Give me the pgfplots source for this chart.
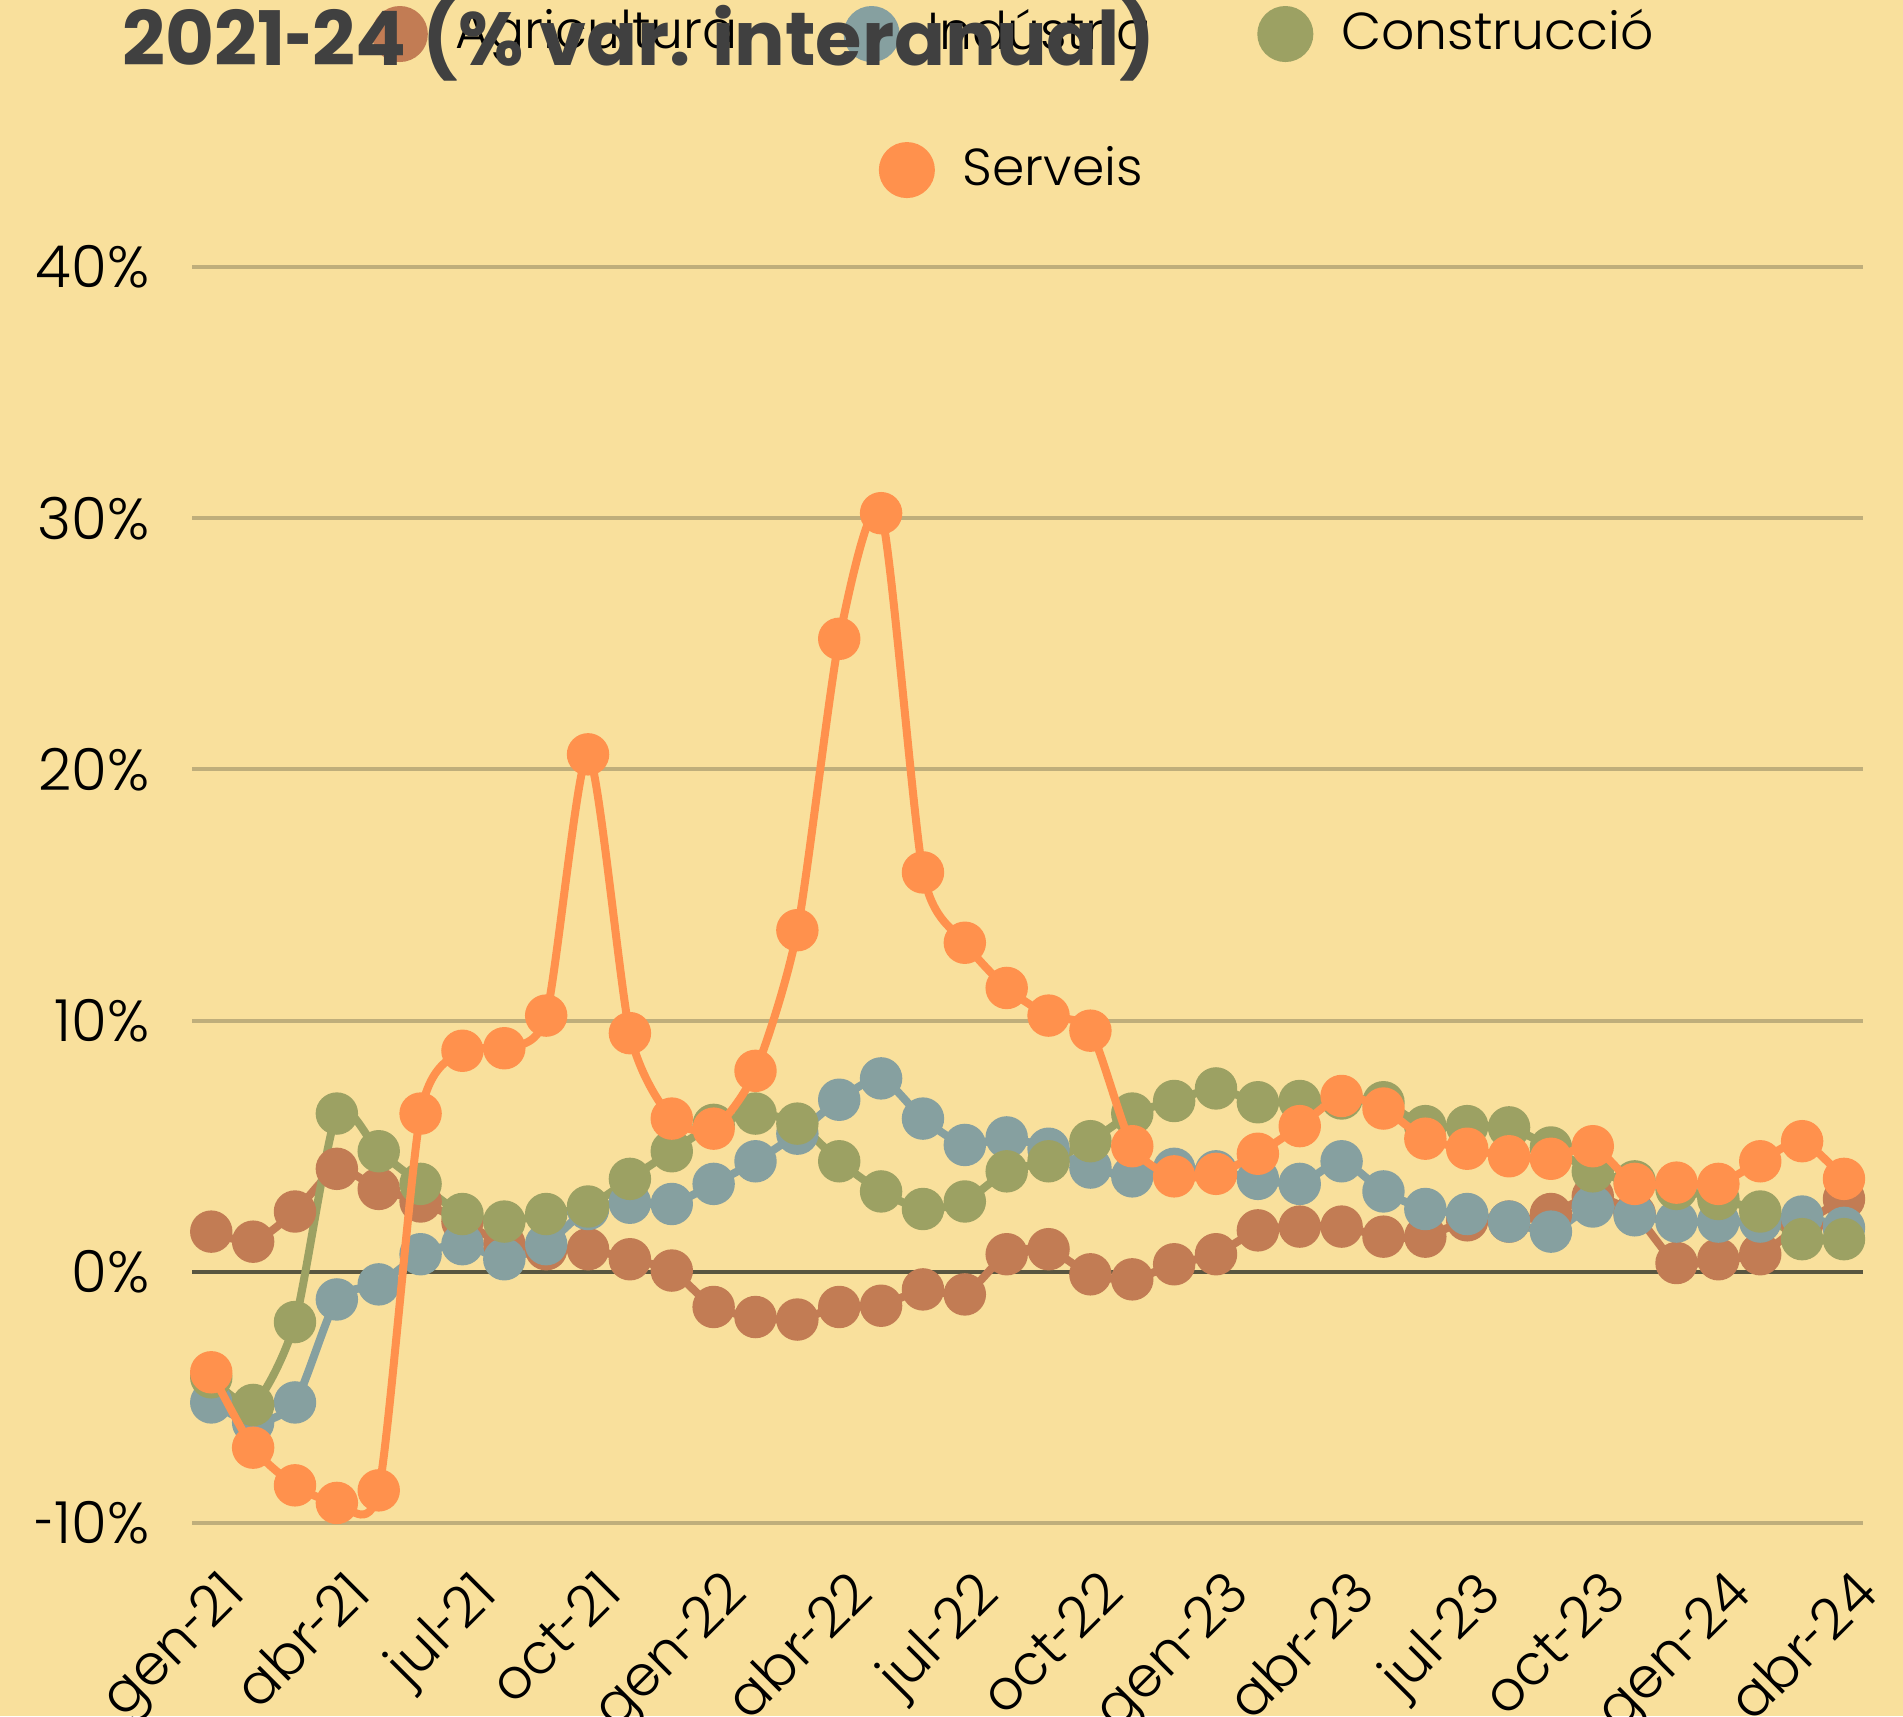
\documentclass[border=0pt]{standalone}
\usepackage{fontspec}
\setmainfont{Poppins}[UprightFont=* Light, BoldFont=* Bold]
\usepackage{graphicx}
\usepackage{pgfplots}
\usepackage{pgfplotstable}
\pgfplotsset{compat=1.18}

\definecolor{bgc}{HTML}{F9E09C}
\definecolor{agri}{HTML}{C27C54}
\definecolor{indu}{HTML}{86A0A0}
\definecolor{cons}{HTML}{9CA163}
\definecolor{serv}{HTML}{FF914D}
\definecolor{gridc}{HTML}{BFAE7B}
\definecolor{zeroc}{HTML}{595640}
\definecolor{titlec}{HTML}{404040}

% short hyphen (Poppins' own is rather wide)
\newcommand\hy{\scalebox{0.62}[1]{-}}

% m = month index from gen-21
\pgfplotstableread{
m A I C S
0 1.6 -5.2 -4.2 -4.0
1 1.2 -6.0 -5.3 -7.0
2 2.4 -5.2 -2.0 -8.5
3 4.1 -1.1 6.3 -9.2
4 3.3 -0.5 4.8 -8.7
5 2.8 0.7 3.5 6.3
6 2.0 1.1 2.3 8.8
7 1.1 0.5 2.0 8.9
8 0.9 1.1 2.3 10.2
9 0.9 2.5 2.6 20.6
10 0.5 2.75 3.7 9.5
11 0.05 2.7 4.8 6.1
12 -1.4 3.5 5.85 5.7
13 -1.8 4.4 6.3 8.0
14 -1.9 5.5 5.9 13.6
15 -1.4 6.85 4.4 25.2
16 -1.35 7.7 3.2 30.2
17 -0.7 6.1 2.5 15.9
18 -0.9 5.05 2.8 13.1
19 0.7 5.35 4.0 11.3
20 0.9 4.9 4.4 10.2
21 -0.1 4.15 5.2 9.6
22 -0.3 3.8 6.3 5.0
23 0.3 4.1 6.8 3.8
24 0.7 4.0 7.3 3.9
25 1.65 3.7 6.75 4.7
26 1.8 3.5 6.8 5.8
27 1.8 4.4 6.9 7.0
28 1.4 3.2 6.75 6.5
29 1.4 2.5 5.8 5.3
30 2.05 2.3 5.8 4.9
31 2.0 2.0 5.75 4.6
32 2.3 1.6 4.95 4.5
33 3.0 2.6 4.0 5.0
34 2.3 2.25 3.6 3.5
35 0.35 2.0 3.3 3.55
36 0.5 2.0 2.9 3.5
37 0.7 2.0 2.4 4.4
38 1.9 2.2 1.3 5.2
39 2.9 1.75 1.3 3.7
}\datatab

\pgfplotsset{
  common/.style={
    at={(48pt,48.25pt)}, anchor=south west,
    scale only axis, width=417.8pt, height=314pt,
    xmin=-0.46, xmax=39.46, ymin=-10, ymax=40,
    legend columns=3,
    legend image code/.code={\fill[##1] (0pt,-0.4pt) circle (6pt);},
    legend style={draw=none, fill=none, inner sep=0pt, outer sep=0pt,
      font=\fontsize{13}{13}\selectfont, anchor=west,
      nodes={inner sep=0pt},
      /tikz/every odd column/.append style={column sep=7pt},
      /tikz/every even column/.append style={column sep=26.5pt},
      /tikz/column 4/.append style={column sep=21.3pt}},
  },
  ser/.style={color=#1, line width=2pt, smooth, tension=0.42,
    mark=*, mark size=4.3pt, mark options={solid, draw=none, fill=#1}},
}

\begin{document}
\begin{tikzpicture}
\fill[bgc] (0,0) rectangle (475.75pt,429pt);

\begin{axis}[common,
  axis line style={draw=none}, tick style={draw=none},
  ytick={-10,0,10,20,30,40},
  yticklabels={\hy10\%,0\%,10\%,20\%,30\%,40\%},
  ymajorgrids, grid style={color=gridc, line width=1pt},
  extra y ticks={0}, extra y tick labels={},
  extra y tick style={grid style={color=zeroc, line width=1pt}},
  xtick={0,3,...,39},
  xticklabels={gen\hy21,abr\hy21,jul\hy21,oct\hy21,gen\hy22,abr\hy22,jul\hy22,oct\hy22,gen\hy23,abr\hy23,jul\hy23,oct\hy23,gen\hy24,abr\hy24},
  tick label style={font=\fontsize{14}{14}\selectfont},
  yticklabel style={inner sep=0pt, xshift=-10.5pt, font=\fontsize{14.5}{14.5}\selectfont},
  xticklabel style={inner sep=0pt, xshift=1.75pt, yshift=-10.75pt, rotate=45, anchor=north east},
  legend style={at={(0.1076,1.1855)}},
]
\addplot[ser=agri] table[x=m, y=A] {\datatab};
\addlegendentry{Agricultura}
\addplot[ser=indu] table[x=m, y=I] {\datatab};
\addlegendentry{Indústria}
\addplot[ser=cons] table[x=m, y=C] {\datatab};
\addlegendentry{Construcció}
\end{axis}

\begin{axis}[common, hide axis,
  legend style={at={(0.411,1.0772)}},
]
\addplot[ser=serv] table[x=m, y=S] {\datatab};
\addlegendentry{Serveis}
\end{axis}

\node[anchor=base west, inner sep=0pt, text=titlec,
  font=\bfseries\fontsize{18.8}{18.8}\selectfont] at (30.4pt,412.6pt)
  {2021\hy24 (\% var. interanual)};

\pgfresetboundingbox
\path[use as bounding box] (0,0) rectangle (475.75pt,429pt);
\end{tikzpicture}
\end{document}
